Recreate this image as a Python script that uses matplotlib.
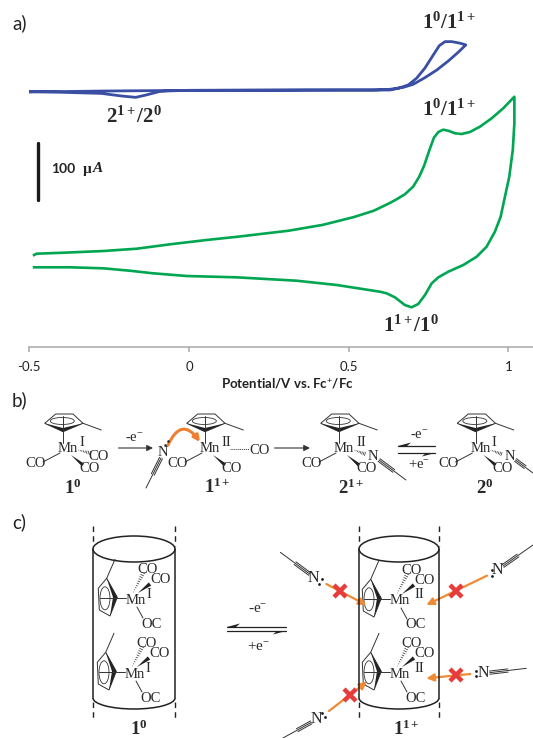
import matplotlib
matplotlib.use("Agg")
import matplotlib.pyplot as plt
import numpy as np
from matplotlib.patches import Ellipse, Arc, Polygon, FancyArrowPatch

plt.rcParams["font.family"] = "Liberation Serif"
plt.rcParams["mathtext.fontset"] = "custom"
plt.rcParams["mathtext.rm"] = "Liberation Serif"
plt.rcParams["mathtext.it"] = "Liberation Serif:italic"
plt.rcParams["mathtext.bf"] = "Liberation Serif:bold"

# cyclic voltammograms, potential in V vs. Fc+/Fc, current in uA (blue baseline = 0)
blue_E = [-0.500, -0.274, 0.0, 0.366, 0.579, 0.629, 0.671, 0.702, 0.739, 0.776, 0.812, 0.843, 0.867,
          0.849, 0.823, 0.802, 0.784, 0.765, 0.739, 0.713, 0.687, 0.656, 0.629, 0.472, 0.0, -0.060, -0.093,
          -0.135, -0.167, -0.210, -0.274, -0.500]
blue_I = [-2.3, -0.6, 0.6, 1.2, 1.2, 2.4, 5.9, 11.1, 22.8, 36.1, 51.8, 67, 79.9,
          82.8, 85.6, 85.6, 78.6, 62.3, 39.6, 21.9, 10.1, 4.2, 1.2, 1.2, 0.6, -0.3, -1.5,
          -7.6, -11.6, -9.3, -4.7, -1.2]
green_E = [-0.485, -0.477, -0.394, -0.268, -0.164, -0.059, 0.055, 0.152, 0.312, 0.419, 0.515, 0.579, 0.632,
           0.650, 0.676, 0.702, 0.721, 0.736, 0.753, 0.767, 0.781, 0.796, 0.812, 0.833, 0.854, 0.880,
           0.911, 0.948, 0.984, 1.019, 1.019, 1.014, 1.003, 0.986, 0.976, 0.958, 0.932, 0.901, 0.859,
           0.812, 0.781, 0.760, 0.739, 0.718, 0.697, 0.676, 0.645, 0.619, 0.598, 0.463, 0.337, 0.149,
           -0.007, -0.112, -0.185, -0.268, -0.373, -0.485]
green_I = [-286.6, -284.3, -282.6, -279.6, -275.6, -267.9, -260.4, -254.7, -244.2, -234, -220.6, -209.3, -195,
           -189.4, -180.7, -167.4, -150, -131.3, -103.4, -82, -72, -68, -69.8, -74.3, -75.5, -72,
           -62.8, -48.1, -30.7, -10.5, -56.3, -103.4, -150, -193.6, -219.8, -245.9, -272.1, -289.5, -304,
           -315.7, -325.5, -336, -356.4, -372, -377.8, -373.8, -360.4, -353.4, -350.6, -338.9, -331.4, -325.5,
           -323.2, -318.5, -314, -309.8, -308, -308]
tick_pos = [-0.5, 0, 0.5, 1]
tick_lab = ["-0.5", "0", "0.5", "1"]

W, H = 533, 738
fig = plt.figure(figsize=(W / 100, H / 100), dpi=100)

# top chart
ax = fig.add_axes([29.3 / W, 1 - 346.7 / H, (W - 29.3) / W, 346.7 / H])
ax.plot(blue_E, blue_I, color="#3A4FA3", lw=2.0, solid_joinstyle="round")
ax.plot(green_E, green_I, color="#00A651", lw=1.9, solid_joinstyle="round")
ax.set_xlim(-0.5, 1.0773)
ax.set_ylim(-446.5, 158.2)
for s in ["top", "left", "right"]:
    ax.spines[s].set_visible(False)
ax.spines["bottom"].set_color("#A8A8A8")
ax.spines["bottom"].set_linewidth(1.1)
ax.set_yticks([])
ax.set_xticks(tick_pos)
ax.set_xticklabels(tick_lab, fontfamily="Lato", fontsize=9.5, color="#222222")
ax.tick_params(axis="x", color="#A8A8A8", length=3.6, width=1.1, pad=7)
ax.set_xlabel("Potential/V vs. Fc$^{\\mathbf{+}}$/Fc", fontfamily="Lato",
              fontweight="bold", fontsize=9.5, color="#222222")
ax.xaxis.set_label_coords((287 - 29.3) / (W - 29.3), -29 / 346.7)

# overlay in pixel coordinates for the schemes
ov = fig.add_axes([0, 0, 1, 1], facecolor="none")
ov.set_xlim(0, W)
ov.set_ylim(H, 0)
ov.axis("off")


def line(p0, p1, lw=0.7, color="#333333", **kw):
    ov.plot([p0[0], p1[0]], [p0[1], p1[1]], color=color, lw=lw, solid_capstyle="round", **kw)


def txt(x, y, s, size=10.5, **kw):
    kw.setdefault("color", "#2a2a2a")
    ov.text(x, y, s, fontsize=size, ha="center", va="center", **kw)


def wedge(p0, p1, w=3.5):
    p0 = np.array(p0, float)
    p1 = np.array(p1, float)
    d = p1 - p0
    n = np.array([-d[1], d[0]]) / np.hypot(*d) * w / 2
    ov.add_patch(Polygon([p0, p1 + n, p1 - n], closed=True, color="#222222", lw=0))


def hashed(p0, p1, w=3.5, n=8):
    p0 = np.array(p0, float)
    p1 = np.array(p1, float)
    d = p1 - p0
    nv = np.array([-d[1], d[0]]) / np.hypot(*d)
    for t in np.linspace(0.05, 1, n):
        c = p0 + d * t
        line(c - nv * w * t / 2, c + nv * w * t / 2, lw=0.5)


def nitrile(p0, p1, frac=0.55):
    # triple bond starting at p0 (next to N), single line on to p1
    p0 = np.array(p0, float)
    p1 = np.array(p1, float)
    d = p1 - p0
    nv = np.array([-d[1], d[0]]) / np.hypot(*d)
    line(p0, p1)
    for s in (-1.6, 1.6):
        line(p0 + nv * s, p0 + d * frac + nv * s)


def half_arrow(p0, p1, side, lw=0.9):
    # straight arrow with a single barb on one side
    p0 = np.array(p0, float)
    p1 = np.array(p1, float)
    line(p0, p1, lw=lw, color="#222222")
    d = (p1 - p0) / np.hypot(*(p1 - p0))
    ov.add_patch(Polygon([p1, p1 - d * 13 + np.array([0, side * 3.5]), p1 - d * 9],
                         closed=True, color="#222222", lw=0))


def arrow(p0, p1, color="#333333", lw=0.8, ms=9):
    ov.add_patch(FancyArrowPatch(p0, p1, arrowstyle="-|>", mutation_scale=ms, color=color,
                                 lw=lw, shrinkA=0, shrinkB=0))


def cp_top(x, y):
    # Cp ring above the Mn centre, panel b
    ov.add_patch(Polygon([(x - 23.3, y - 25.7), (x - 12.3, y - 35), (x + 5, y - 35),
                          (x + 15, y - 25.7), (x - 5, y - 17.3)],
                         closed=True, fill=False, ec="#333333", lw=0.7))
    ov.add_patch(Polygon([(x - 23.3, y - 25.7), (x - 5, y - 17.3), (x + 15, y - 25.7), (x - 5, y - 21)],
                         closed=True, color="#222222", lw=0))
    ov.add_patch(Ellipse((x - 5.7, y - 28), 24, 7, fill=False, ec="#333333", lw=0.6))
    line((x - 5, y - 33), (x - 5, y - 6))
    line((x + 15, y - 25.7), (x + 33.3, y - 19))
    txt(x, y, "Mn")


# panel labels
ov.text(12, 23, "a)", fontfamily="Lato", fontsize=13.5, ha="left", va="center", color="#222222")
ov.text(12, 400, "b)", fontfamily="Lato", fontsize=13.5, ha="left", va="center", color="#222222")
ov.text(12, 522, "c)", fontfamily="Lato", fontsize=13.5, ha="left", va="center", color="#222222")

# chart annotations
big = 15
txt(449, 23, "$\\mathbf{1^{0}/1^{1+}}$", big)
txt(449, 110, "$\\mathbf{1^{0}/1^{1+}}$", big)
txt(134, 117, "$\\mathbf{2^{1+}/2^{0}}$", big)
txt(411, 326, "$\\mathbf{1^{1+}/1^{0}}$", big)
line((37.7, 142.5), (37.7, 200), lw=2.4, color="#1a1a1a")
ov.text(51.5, 169, "100", fontfamily="Lato", fontweight="bold", fontsize=10, va="center", color="#222222")
ov.text(83, 169, "\u00b5", fontfamily="Liberation Serif", fontweight="bold", fontsize=11, va="center", color="#222222")
ov.text(92.5, 169, "A", fontfamily="Liberation Serif", fontstyle="italic", fontweight="bold", fontsize=11, va="center", color="#222222")

lab = 13.5

# panel b, molecule 1^0
x, y = 68, 449
cp_top(x, y)
txt(x + 14, y - 6, "I", 10.5)
line((x - 8, y + 4), (x - 25, y + 13))
txt(x - 32, y + 14.5, "CO")
hashed((x + 10, y + 1), (x + 22, y + 4))
txt(x + 31, y + 8, "CO")
wedge((x + 3, y + 6), (x + 15, y + 16))
txt(x + 22, y + 19.5, "CO")
txt(x + 4.5, 488, "$\\mathbf{1^{0}}$", lab)
arrow((118.5, 448), (153, 448))
txt(134, 438, "-e$^{-}$", 10.5)

# molecule 1^1+
x, y = 210, 449
cp_top(x, y)
txt(x + 16, y - 6, "II", 10.5)
line((x - 8, y + 4), (x - 25, y + 13))
txt(x - 32, y + 14.5, "CO")
wedge((x + 3, y + 6), (x + 15, y + 16))
txt(x + 22, y + 19.5, "CO")
ov.plot([x + 20, x + 39], [449, 449], color="#333333", lw=0.7, ls=(0, (1, 1)))
txt(x + 50, 450, "CO")
txt(x - 47, 452, "N")
ov.plot([x - 42, x - 45], [441, 445], ".", color="#222222", ms=1.6)
nitrile((x - 49, 458), (x - 64, 488))
txt(x + 7, 487, "$\\mathbf{1^{1+}}$", lab)
arrow((274.5, 448), (310, 448))
ov.add_patch(FancyArrowPatch((x - 42, 445), (x - 10, 442), connectionstyle="arc3,rad=-0.85",
                             arrowstyle="-|>", mutation_scale=9, color="#EE8030", lw=2.2,
                             shrinkA=0, shrinkB=0))

# molecule 2^1+
x, y = 344, 449
cp_top(x, y)
txt(x + 17, y - 7, "II", 10.5)
line((x - 8, y + 4), (x - 25, y + 13))
txt(x - 32, y + 14.5, "CO")
hashed((x + 10, y + 1), (x + 21, y + 5))
txt(x + 29, y + 8, "N")
wedge((x + 3, y + 6), (x + 15, y + 16))
txt(x + 23, y + 19.5, "CO")
nitrile((x + 35, y + 11), (x + 62, y + 31))
txt(x + 7, 488, "$\\mathbf{2^{1+}}$", lab)

# equilibrium arrows b
half_arrow((435, 446), (398, 446), -1)
half_arrow((398, 453), (435, 453), 1)
txt(419.5, 435, "-e$^{-}$", 10.5)
txt(419.5, 465, "+e$^{-}$", 10.5)

# molecule 2^0
x, y = 480.5, 449
cp_top(x, y)
txt(x + 13, y - 7, "I", 10.5)
line((x - 8, y + 4), (x - 25, y + 13))
txt(x - 32, y + 14.5, "CO")
hashed((x + 10, y + 1), (x + 21, y + 5))
txt(x + 29, y + 8, "N")
wedge((x + 3, y + 6), (x + 15, y + 16))
txt(x + 22, y + 19.5, "CO")
nitrile((x + 35, y + 11), (x + 52.5, y + 24))
txt(x + 4.5, 488, "$\\mathbf{2^{0}}$", lab)


# panel c
def cylinder(x0, x1):
    xc = (x0 + x1) / 2
    w = x1 - x0
    ov.add_patch(Ellipse((xc, 549), w, 26, fill=False, ec="#222222", lw=1.1))
    ov.add_patch(Arc((xc, 698), w, 22, theta1=0, theta2=180, ec="#222222", lw=1.1))
    for xx in (x0, x1):
        line((xx, 549), (xx, 698), lw=1.1, color="#222222")
        ov.plot([xx, xx], [526, 546], color="#222222", lw=1.0, ls=(0, (4, 3)))
        ov.plot([xx, xx], [702, 720], color="#222222", lw=1.0, ls=(0, (4, 3)))


def mol_c(x, y, ox):
    ov.add_patch(Polygon([(x - 37.7, y - 11.7), (x - 29.3, y - 21.7), (x - 18.7, y - 2.7),
                          (x - 26, y + 16), (x - 36.7, y + 10)],
                         closed=True, fill=False, ec="#333333", lw=0.7))
    ov.add_patch(Polygon([(x - 29.3, y - 21.7), (x - 18.7, y - 2.7), (x - 26, y + 16), (x - 23, y - 2.7)],
                         closed=True, color="#222222", lw=0))
    ov.add_patch(Ellipse((x - 31, y - 1.7), 10, 23, fill=False, ec="#333333", lw=0.6))
    line((x - 29.3, y - 21.7), (x - 21, y - 40.7))
    line((x - 36, y - 2), (x - 10, y - 2))
    txt(x, y, "Mn")
    txt(x + (19 if ox == "II" else 13), y - 6, ox, 10.5)
    hashed((x - 3, y - 7), (x + 7.3, y - 27), w=4, n=10)
    wedge((x + 2, y - 7), (x + 14, y - 16), w=4)
    txt(x + 12, y - 30.7, "CO")
    txt(x + 25, y - 20.7, "CO")
    line((x + 1, y + 7), (x + 7, y + 18))
    txt(x + 16, y + 24, "OC")


cylinder(93, 175)
mol_c(136, 600, "I")
mol_c(135, 674, "I")
cylinder(359, 439)
mol_c(400, 601, "II")
mol_c(400, 674, "II")
txt(139, 729, "$\\mathbf{1^{0}}$", lab)
txt(406, 729, "$\\mathbf{1^{1+}}$", lab)

half_arrow((286, 627), (227, 627), -1)
half_arrow((227, 631), (286, 631), 1)
txt(258, 610, "-e$^{-}$", 11)
txt(258, 646, "+e$^{-}$", 11)


def c4(X, Y):
    return (263 + X / 3, 510 + Y / 3)


orange = "#F08A35"
red = "#E63C3A"
for start, end, cross in [((190, 222), (310, 285), (232, 243)),
                          ((672, 197), (490, 285), (578, 243)),
                          ((622, 492), (490, 505), (578, 495)),
                          ((198, 603), (312, 515), (262, 555))]:
    arrow(c4(*start), c4(*end), color=orange, lw=1.6, ms=11)
    ov.plot(*c4(*cross), marker="x", ms=9, mew=3.2, color=red)

txt(*c4(152, 205), "N", 11.5)
nitrile(c4(140, 192), c4(52, 127), 0.5)
ov.plot(*zip(c4(178, 208), c4(167, 222)), ".", color="#222222", ms=2)
txt(*c4(703, 180), "N", 11.5)
nitrile(c4(720, 168), c4(810, 105), 0.5)
ov.plot(*zip(c4(688, 180), c4(688, 197)), ".", color="#222222", ms=2)
txt(*c4(660, 490), "N", 11.5)
nitrile(c4(680, 488), c4(790, 475), 0.5)
ov.plot(*zip(c4(640, 482), c4(640, 498)), ".", color="#222222", ms=2)
txt(*c4(160, 628), "N", 11.5)
nitrile(c4(145, 637), c4(60, 684), 0.5)
ov.plot(*zip(c4(178, 610), c4(187, 620)), ".", color="#222222", ms=2)

fig.savefig("out.png", dpi=100)
